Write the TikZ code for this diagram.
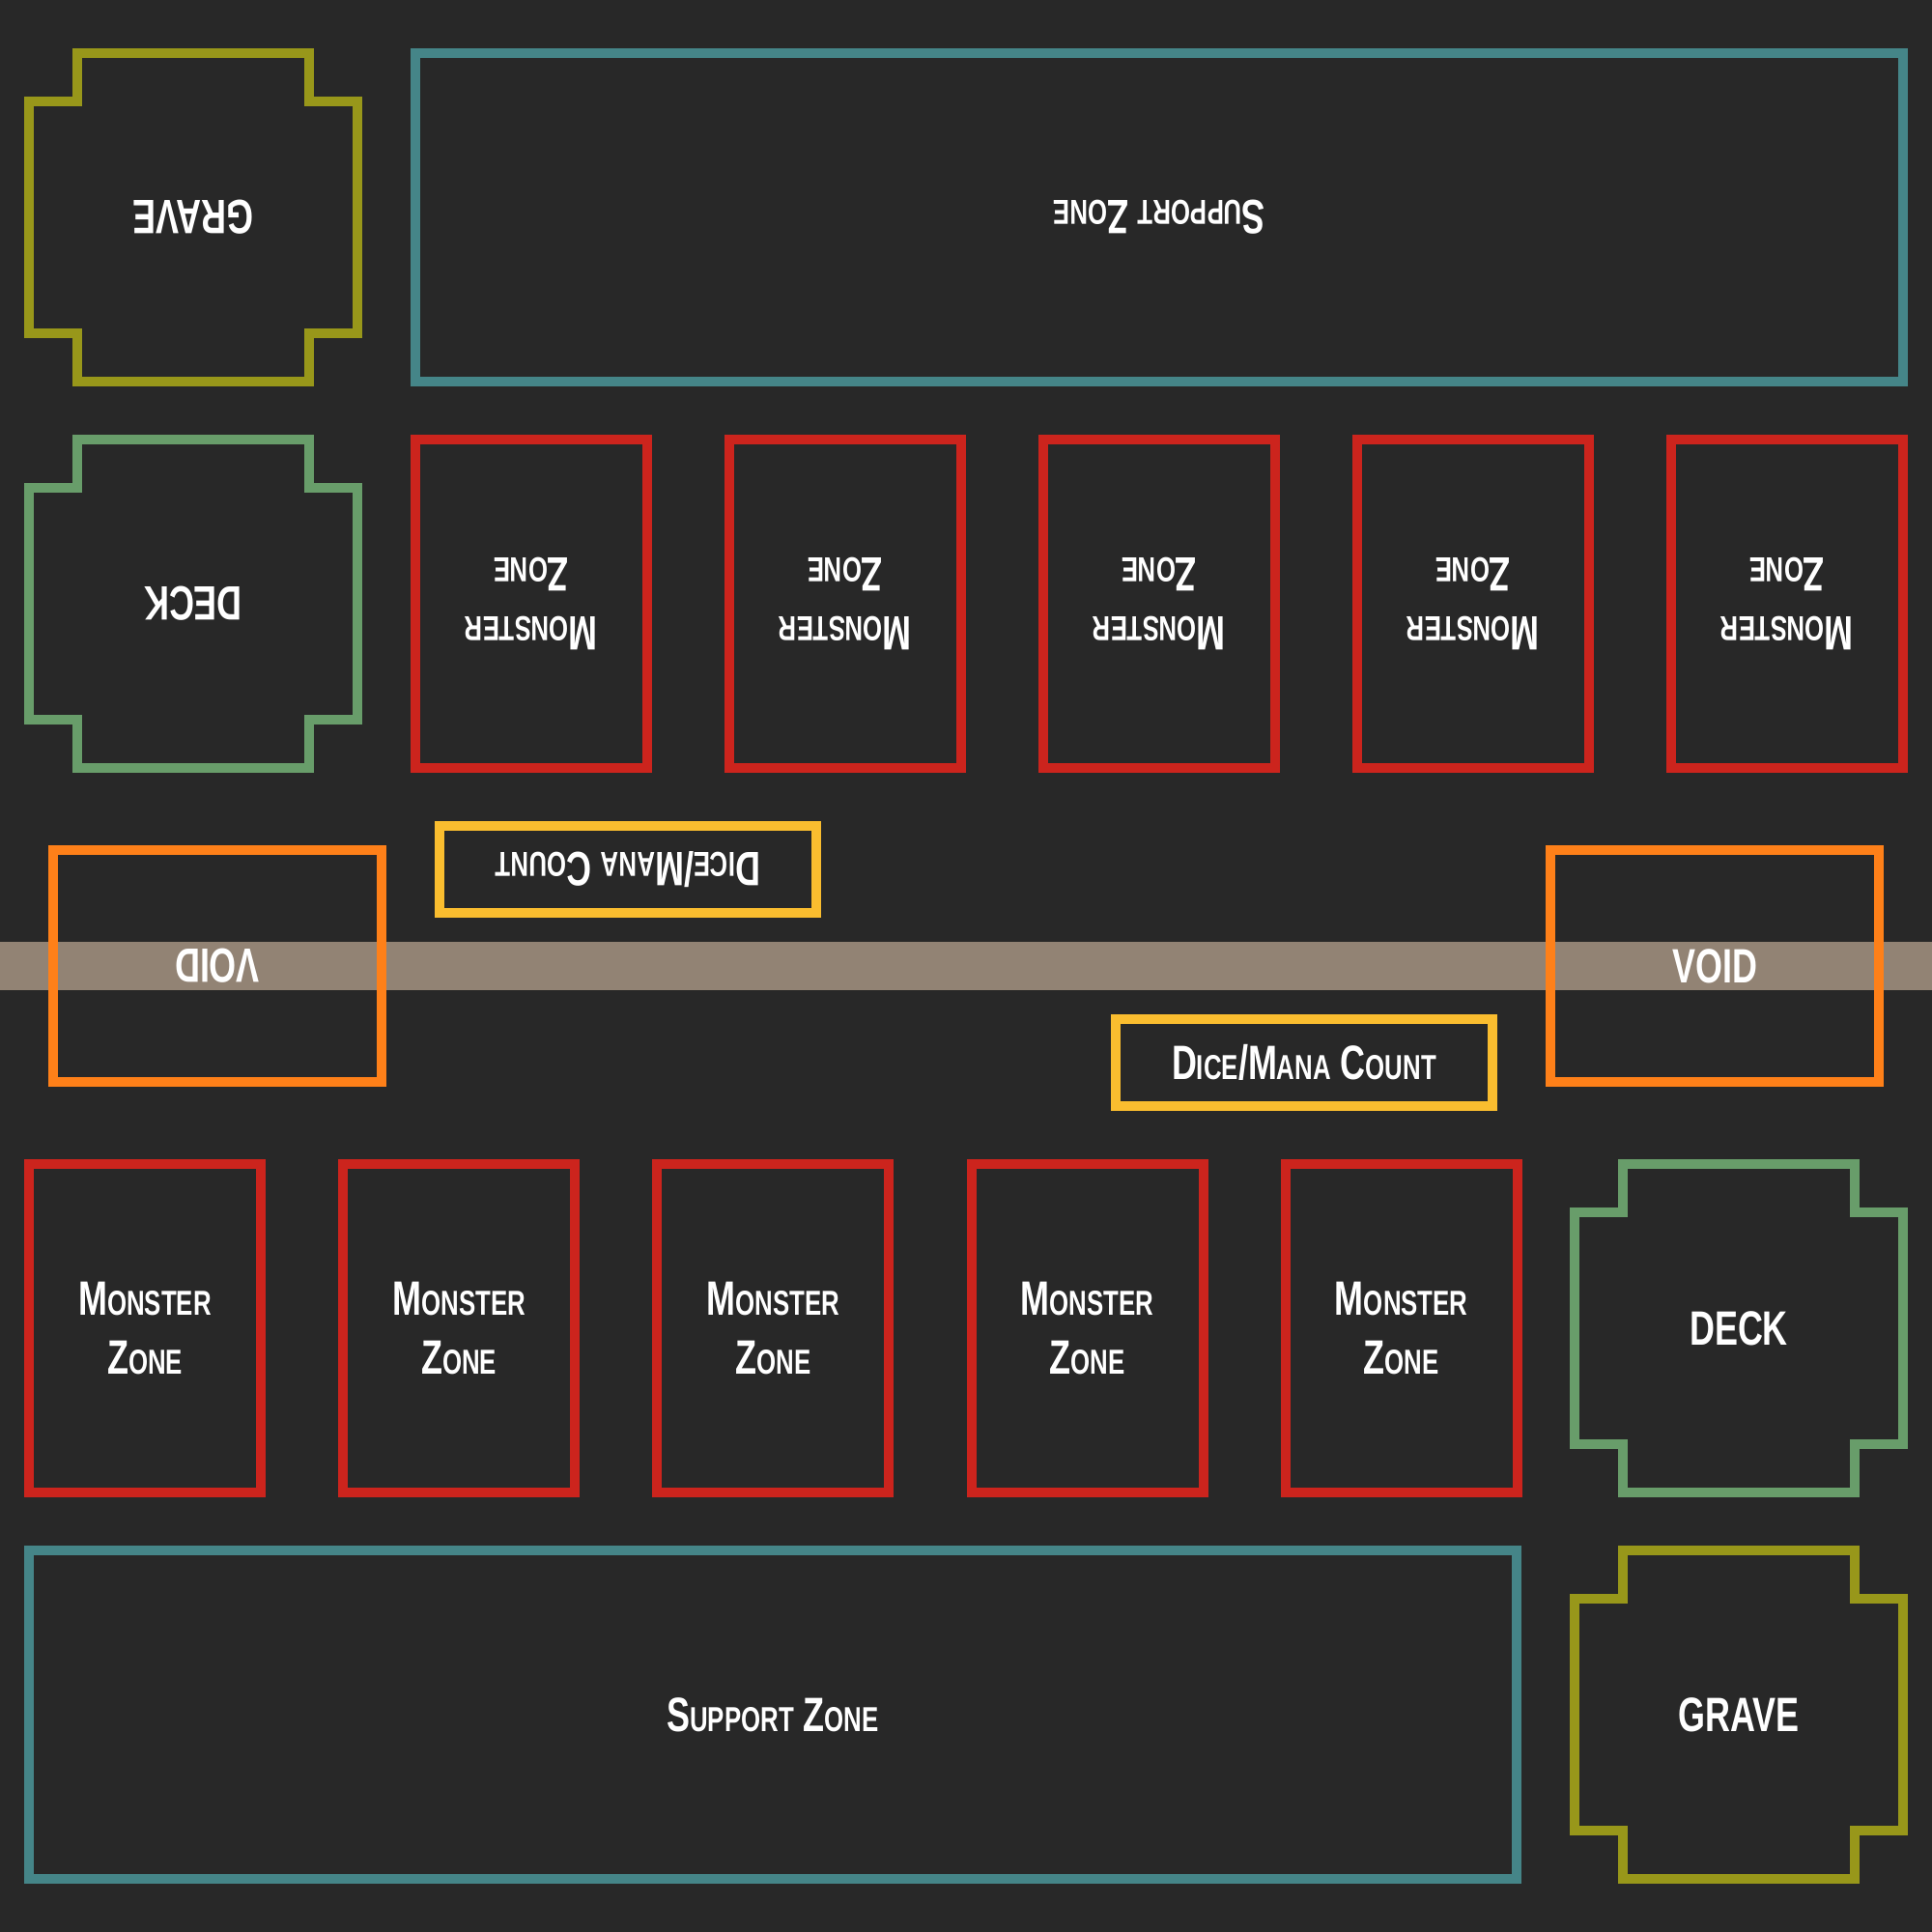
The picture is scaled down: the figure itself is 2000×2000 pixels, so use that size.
\documentclass[tikz,border=0pt]{standalone}
\usepackage{fontspec}
\usepackage{tikz}
\usetikzlibrary{positioning}
\newfontfamily\zonefont[FakeStretch=0.72]{Liberation Sans}
\definecolor{bg1}{HTML}{282828}
\definecolor{red1}{HTML}{CC241D}
\definecolor{olive1}{HTML}{98971A}
\definecolor{teal1}{HTML}{458588}
\definecolor{green1}{HTML}{689D6A}
\definecolor{orange1}{HTML}{FE8019}
\definecolor{yellow1}{HTML}{FABD2F}
\definecolor{gray1}{HTML}{928374}
\newcommand{\zcaps}[2]{{\fontsize{14.2}{17.6}\selectfont #1}{\fontsize{10.2}{17.6}\selectfont #2}}

\begin{document}
\begin{tikzpicture}[
    x=0.01cm, y=-0.01cm,
    zline/.style={line width=1mm},
    ztext/.style={text=white, align=center,
                  font=\zonefont\bfseries\fontsize{14.2}{17.6}\selectfont},
    zbox/.style={draw, zline, ztext, inner sep=0pt,
                 minimum width=2.4cm, minimum height=3.4cm},
    monster/.style={zbox, draw=red1},
    support/.style={zbox, draw=teal1, minimum width=15.4cm},
    voidbox/.style={zbox, draw=orange1, minimum width=3.4cm,
                    minimum height=2.4cm},
    dicebox/.style={zbox, draw=yellow1, minimum width=3.9cm,
                    minimum height=0.9cm},
    flip/.style={rotate=180},
    notched/.pic={
        \draw[zline] (-170,-120) -- (-170,120) -- (-120,120) -- (-120,170)
            -- (120,170) -- (120,120) -- (170,120) -- (170,-120)
            -- (120,-120) -- (120,-170) -- (-120,-170) -- (-120,-120)
            -- cycle;
    },
]

% ── background ──
\fill[bg1] (0,0) rectangle (2000,2000);
\fill[gray1] (0,975) rectangle (2000,1025);

% ── far side (upside down) ──
\pic[color=olive1] at (200,225) {notched};
\node[ztext, flip] (graveB) at (200,225) {GRAVE};
\node[support, flip] (suppB) at (1200,225) {\zcaps{S}{UPPORT} \zcaps{Z}{ONE}};

\pic[color=green1] at (200,625) {notched};
\node[ztext, flip] (deckB) at (200,625) {DECK};

\node[monster, flip] (monB1) at (550,625) {\zcaps{M}{ONSTER}\\\zcaps{Z}{ONE}};
\node[monster, flip] (monB2) at (875,625) {\zcaps{M}{ONSTER}\\\zcaps{Z}{ONE}};
\node[monster, flip] (monB3) at (1200,625) {\zcaps{M}{ONSTER}\\\zcaps{Z}{ONE}};
\node[monster, flip] (monB4) at (1525,625) {\zcaps{M}{ONSTER}\\\zcaps{Z}{ONE}};
\node[monster, flip] (monB5) at (1850,625) {\zcaps{M}{ONSTER}\\\zcaps{Z}{ONE}};

\node[dicebox, flip] (diceB) at (650,900)
    {\zcaps{D}{ICE}/\zcaps{M}{ANA} \zcaps{C}{OUNT}};
\node[voidbox, flip] (voidB) at (225,1000) {VOID};

% ── near side ──
\node[voidbox] (voidA) at (1775,1000) {VOID};
\node[dicebox] (diceA) at (1350,1100)
    {\zcaps{D}{ICE}/\zcaps{M}{ANA} \zcaps{C}{OUNT}};

\node[monster] (monA1) at (150,1375) {\zcaps{M}{ONSTER}\\\zcaps{Z}{ONE}};
\node[monster, right=0.75cm of monA1] (monA2) {\zcaps{M}{ONSTER}\\\zcaps{Z}{ONE}};
\node[monster, right=0.75cm of monA2] (monA3) {\zcaps{M}{ONSTER}\\\zcaps{Z}{ONE}};
\node[monster, right=0.75cm of monA3] (monA4) {\zcaps{M}{ONSTER}\\\zcaps{Z}{ONE}};
\node[monster, right=0.75cm of monA4] (monA5) {\zcaps{M}{ONSTER}\\\zcaps{Z}{ONE}};

\pic[color=green1] at (1800,1375) {notched};
\node[ztext] (deckA) at (1800,1375) {DECK};

\node[support] (suppA) at (800,1775) {\zcaps{S}{UPPORT} \zcaps{Z}{ONE}};
\pic[color=olive1] at (1800,1775) {notched};
\node[ztext] (graveA) at (1800,1775) {GRAVE};

\end{tikzpicture}
\end{document}
